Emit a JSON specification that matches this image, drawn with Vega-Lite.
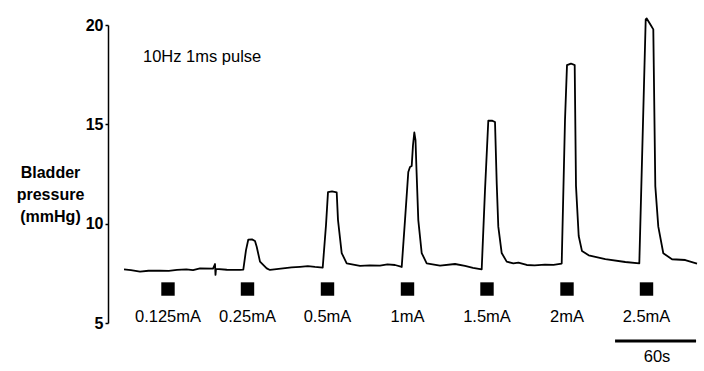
{
  "$schema": "https://vega.github.io/schema/vega-lite/v6.json",
  "autosize": {"type": "none"},
  "padding": {"left": 108, "top": 25, "right": 2, "bottom": 48},
  "width": 594,
  "height": 298,
  "config": {"view": {"stroke": null}, "font": "Liberation Sans"},
  "datasets": {
    "trace": [
      {"t": 11.85, "v": 7.70}, {"t": 17.0, "v": 7.66}, {"t": 23.70, "v": 7.59}, {"t": 30.0, "v": 7.63}, {"t": 38.52, "v": 7.64},
      {"t": 45.0, "v": 7.62}, {"t": 51.11, "v": 7.67}, {"t": 58.0, "v": 7.70}, {"t": 63.0, "v": 7.66},
      {"t": 68.15, "v": 7.75}, {"t": 77.78, "v": 7.74}, {"t": 79.26, "v": 7.97}, {"t": 79.63, "v": 7.42},
      {"t": 80.0, "v": 7.72}, {"t": 88.0, "v": 7.68}, {"t": 97.78, "v": 7.67}, {"t": 100.22, "v": 7.69}, {"t": 102.22, "v": 8.67},
      {"t": 103.93, "v": 9.20}, {"t": 106.67, "v": 9.21}, {"t": 108.89, "v": 9.13}, {"t": 110.15, "v": 8.84},
      {"t": 112.59, "v": 8.09}, {"t": 117.56, "v": 7.75}, {"t": 120.0, "v": 7.67}, {"t": 129.63, "v": 7.75},
      {"t": 136.0, "v": 7.80}, {"t": 142.22, "v": 7.83}, {"t": 148.0, "v": 7.86}, {"t": 153.33, "v": 7.82}, {"t": 159.04, "v": 7.79}, {"t": 161.48, "v": 9.93},
      {"t": 162.96, "v": 11.59}, {"t": 165.93, "v": 11.62}, {"t": 169.41, "v": 11.57}, {"t": 170.37, "v": 10.18},
      {"t": 173.11, "v": 8.52}, {"t": 176.81, "v": 8.00}, {"t": 186.67, "v": 7.88}, {"t": 194.0, "v": 7.90}, {"t": 201.48, "v": 7.89},
      {"t": 207.0, "v": 7.95}, {"t": 212.59, "v": 7.92}, {"t": 217.56, "v": 7.82}, {"t": 220.0, "v": 10.18}, {"t": 222.44, "v": 12.60},
      {"t": 223.70, "v": 12.85}, {"t": 224.96, "v": 12.90}, {"t": 225.93, "v": 13.96}, {"t": 226.89, "v": 14.59},
      {"t": 227.78, "v": 14.21}, {"t": 228.52, "v": 12.70}, {"t": 229.85, "v": 10.18}, {"t": 232.37, "v": 8.52},
      {"t": 236.07, "v": 8.00}, {"t": 245.93, "v": 7.89}, {"t": 257.04, "v": 7.97}, {"t": 264.44, "v": 7.87},
      {"t": 270.37, "v": 7.78}, {"t": 276.81, "v": 7.70}, {"t": 279.26, "v": 11.69}, {"t": 281.70, "v": 15.18},
      {"t": 284.44, "v": 15.19}, {"t": 286.67, "v": 15.12}, {"t": 287.93, "v": 12.05}, {"t": 289.11, "v": 9.85},
      {"t": 291.63, "v": 8.52}, {"t": 295.33, "v": 8.09}, {"t": 300.22, "v": 8.00}, {"t": 304.0, "v": 8.04}, {"t": 310.15, "v": 7.92},
      {"t": 316.0, "v": 7.90}, {"t": 323.70, "v": 7.94}, {"t": 330.0, "v": 7.93}, {"t": 336.07, "v": 7.99}, {"t": 338.52, "v": 15.22}, {"t": 340.0, "v": 17.98},
      {"t": 342.96, "v": 18.06}, {"t": 345.70, "v": 17.98}, {"t": 346.67, "v": 11.89}, {"t": 348.67, "v": 9.38},
      {"t": 351.11, "v": 8.62}, {"t": 356.07, "v": 8.41}, {"t": 368.37, "v": 8.21}, {"t": 383.19, "v": 8.07},
      {"t": 393.56, "v": 8.00}, {"t": 398.30, "v": 20.28}, {"t": 399.04, "v": 20.33}, {"t": 402.0, "v": 20.0},
      {"t": 403.93, "v": 19.78}, {"t": 405.41, "v": 11.89}, {"t": 407.63, "v": 9.85}, {"t": 411.33, "v": 8.51},
      {"t": 417.78, "v": 8.21}, {"t": 427.63, "v": 8.17}, {"t": 436.30, "v": 7.99}
    ],
    "stim": [
      {"t": 44.44, "v": 6.71, "label": "0.125mA"},
      {"t": 103.33, "v": 6.71, "label": "0.25mA"},
      {"t": 162.59, "v": 6.71, "label": "0.5mA"},
      {"t": 221.85, "v": 6.71, "label": "1mA"},
      {"t": 280.74, "v": 6.71, "label": "1.5mA"},
      {"t": 340.0, "v": 6.71, "label": "2mA"},
      {"t": 398.89, "v": 6.71, "label": "2.5mA"}
    ]
  },
  "layer": [
    {
      "data": {"name": "trace"},
      "mark": {"type": "line", "color": "black", "strokeWidth": 1.8, "clip": false, "strokeJoin": "round"},
      "encoding": {
        "x": {"field": "t", "type": "quantitative", "scale": {"domain": [0, 440], "nice": false, "zero": false}, "axis": null},
        "y": {
          "field": "v", "type": "quantitative",
          "scale": {"domain": [5, 20], "nice": false, "zero": false},
          "axis": {
            "values": [5, 10, 15, 20],
            "grid": false,
            "domainColor": "black", "domainWidth": 1.5,
            "tickColor": "black", "tickSize": 3, "tickWidth": 1.5,
            "labelFont": "Liberation Sans", "labelFontSize": 16, "labelFontWeight": "bold", "labelColor": "black", "labelPadding": 2,
            "title": ["Bladder", "pressure", "(mmHg)"],
            "titleAngle": 0, "titleAlign": "center", "titleBaseline": "middle",
            "titleX": -58, "titleY": 147, "titleLineHeight": 22,
            "titleFont": "Liberation Sans", "titleFontSize": 16, "titleFontWeight": "bold", "titleColor": "black"
          }
        }
      }
    },
    {
      "data": {"name": "stim"},
      "mark": {"type": "point", "shape": "square", "filled": true, "color": "black", "size": 180, "opacity": 1},
      "encoding": {
        "x": {"field": "t", "type": "quantitative"},
        "y": {"field": "v", "type": "quantitative"}
      }
    },
    {
      "data": {"name": "stim"},
      "mark": {"type": "text", "fontSize": 16.5, "font": "Liberation Sans", "color": "black", "baseline": "middle", "align": "center", "dy": 28},
      "encoding": {
        "x": {"field": "t", "type": "quantitative"},
        "y": {"field": "v", "type": "quantitative"},
        "text": {"field": "label"}
      }
    },
    {
      "data": {"values": [{"t": 375.6, "t2": 435.6, "v": 4.1}]},
      "mark": {"type": "rule", "color": "black", "strokeWidth": 3, "clip": false},
      "encoding": {
        "x": {"field": "t", "type": "quantitative"},
        "x2": {"field": "t2"},
        "y": {"field": "v", "type": "quantitative"}
      }
    },
    {
      "data": {"values": [{"t": 406.7, "v": 3.3, "label": "60s"}]},
      "mark": {"type": "text", "fontSize": 16.5, "font": "Liberation Sans", "color": "black", "baseline": "middle", "align": "center"},
      "encoding": {
        "x": {"field": "t", "type": "quantitative"},
        "y": {"field": "v", "type": "quantitative"},
        "text": {"field": "label"}
      }
    },
    {
      "data": {"values": [{"t": 25.9, "v": 18.39, "label": "10Hz 1ms pulse"}]},
      "mark": {"type": "text", "fontSize": 16.5, "font": "Liberation Sans", "color": "black", "baseline": "middle", "align": "left"},
      "encoding": {
        "x": {"field": "t", "type": "quantitative"},
        "y": {"field": "v", "type": "quantitative"},
        "text": {"field": "label"}
      }
    }
  ]
}
